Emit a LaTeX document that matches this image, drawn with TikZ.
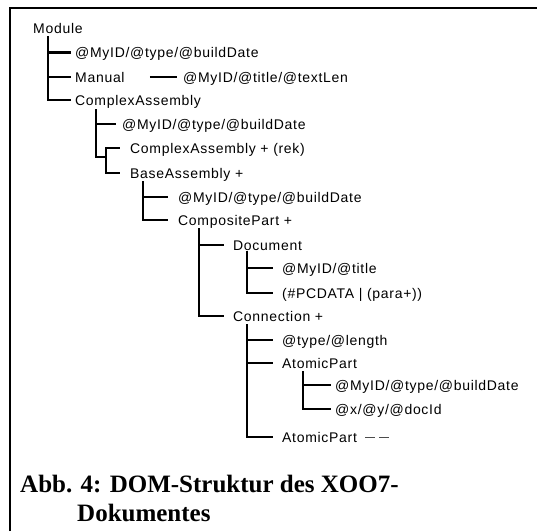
\documentclass[tikz,border=0pt]{standalone}
\usepackage{fontspec}
\setmainfont{Liberation Sans}[LetterSpace=5]
\newfontfamily\capfont{Liberation Serif}[Scale=1]
\begin{document}
\begin{tikzpicture}[x=1pt,y=-1pt,
  lbl/.style={inner sep=0pt,anchor=west,text height=10pt,text depth=0pt,font=\fontsize{14}{16}\selectfont},
  capt/.style={inner sep=0pt,anchor=base west,font=\capfont\bfseries\fontsize{25}{29}\selectfont},
  tree/.style={line width=2.6pt,line cap=rect},
  frame/.style={line width=2.5pt},
  thin/.style={line width=1.8pt},
  dashy/.style={line width=0.9pt,black!70,dash pattern=on 10pt off 4pt on 10pt off 3pt on 2pt}]
\useasboundingbox (0,0) rectangle (537,531);
\draw[frame] (10,531) -- (10,8) -- (537,8);
% nodes
\node[lbl] (module) at (33,28) {Module};
\node[lbl] (a1) at (75,52.5) {@MyID/@type/@buildDate};
\node[lbl] (manual) at (75,77) {Manual};
\node[lbl] (mattr) at (183,77) {@MyID/@title/@textLen};
\node[lbl] (ca) at (75,100) {ComplexAssembly};
\node[lbl] (caattr) at (122,124) {@MyID/@type/@buildDate};
\node[lbl] (carek) at (130,148) {ComplexAssembly + (rek)};
\node[lbl] (ba) at (130,173) {BaseAssembly +};
\node[lbl] (baattr) at (178,197) {@MyID/@type/@buildDate};
\node[lbl] (cp) at (178,220) {CompositePart +};
\node[lbl] (doc) at (233,245) {Document};
\node[lbl] (docattr) at (282,268) {@MyID/@title};
\node[lbl] (pcdata) at (282,293) {(\#PCDATA | (para+))};
\node[lbl] (conn) at (233,316) {Connection +};
\node[lbl] (connattr) at (282,340) {@type/@length};
\node[lbl] (ap) at (282,363) {AtomicPart};
\node[lbl] (apattr1) at (335,385) {@MyID/@type/@buildDate};
\node[lbl] (apattr2) at (335,409) {@x/@y/@docId};
\node[lbl] (ap2) at (282,437) {AtomicPart};
\coordinate (dashend) at (392,437);
% tree lines
\coordinate (v0) at (48,37);
\draw[tree] (v0) |- ([xshift=-5pt]a1.west);
\draw[tree] (v0) |- ([xshift=-5pt]manual.west);
\draw[tree] (v0) |- ([xshift=-5pt]ca.west);
\draw[thin] ([xshift=25pt]manual.east) -- ([xshift=-6pt]mattr.west);
\coordinate (v1) at (96,110);
\coordinate (v1b) at (106,157);
\draw[tree] (v1) |- ([xshift=-7pt]caattr.west);
\draw[tree] (v1) |- (v1b);
\draw[tree] (v1b) |- ([xshift=-11pt]carek.west);
\draw[tree] (v1b) |- ([xshift=-11pt]ba.west);
\coordinate (v2) at (143,182);
\draw[tree] (v2) |- ([xshift=-11pt]baattr.west);
\draw[tree] (v2) |- ([xshift=-11pt]cp.west);
\coordinate (v3) at (199,229);
\draw[tree] (v3) |- ([xshift=-10pt]doc.west);
\draw[tree] (v3) |- ([xshift=-10pt]conn.west);
\coordinate (v4) at (247,252);
\draw[tree] (v4) |- ([xshift=-10pt]docattr.west);
\draw[tree] (v4) |- ([xshift=-10pt]pcdata.west);
\coordinate (v5) at (247,325);
\draw[tree] (v5) |- ([xshift=-10pt]connattr.west);
\draw[tree] (v5) |- ([xshift=-10pt]ap.west);
\draw[tree] (v5) |- ([xshift=-10pt]ap2.west);
\coordinate (v6) at (303,372);
\draw[tree] (v6) |- ([xshift=-5pt]apattr1.west);
\draw[tree] (v6) |- ([xshift=-5pt]apattr2.west);
\draw[dashy] ([xshift=8pt]ap2.east) -- (dashend);
% caption
\node[capt] (cap1) at (20,492) {Abb. 4: DOM-Struktur des XOO7-};
\node[capt] (cap2) at (77,521) {Dokumentes};
\end{tikzpicture}
\end{document}
